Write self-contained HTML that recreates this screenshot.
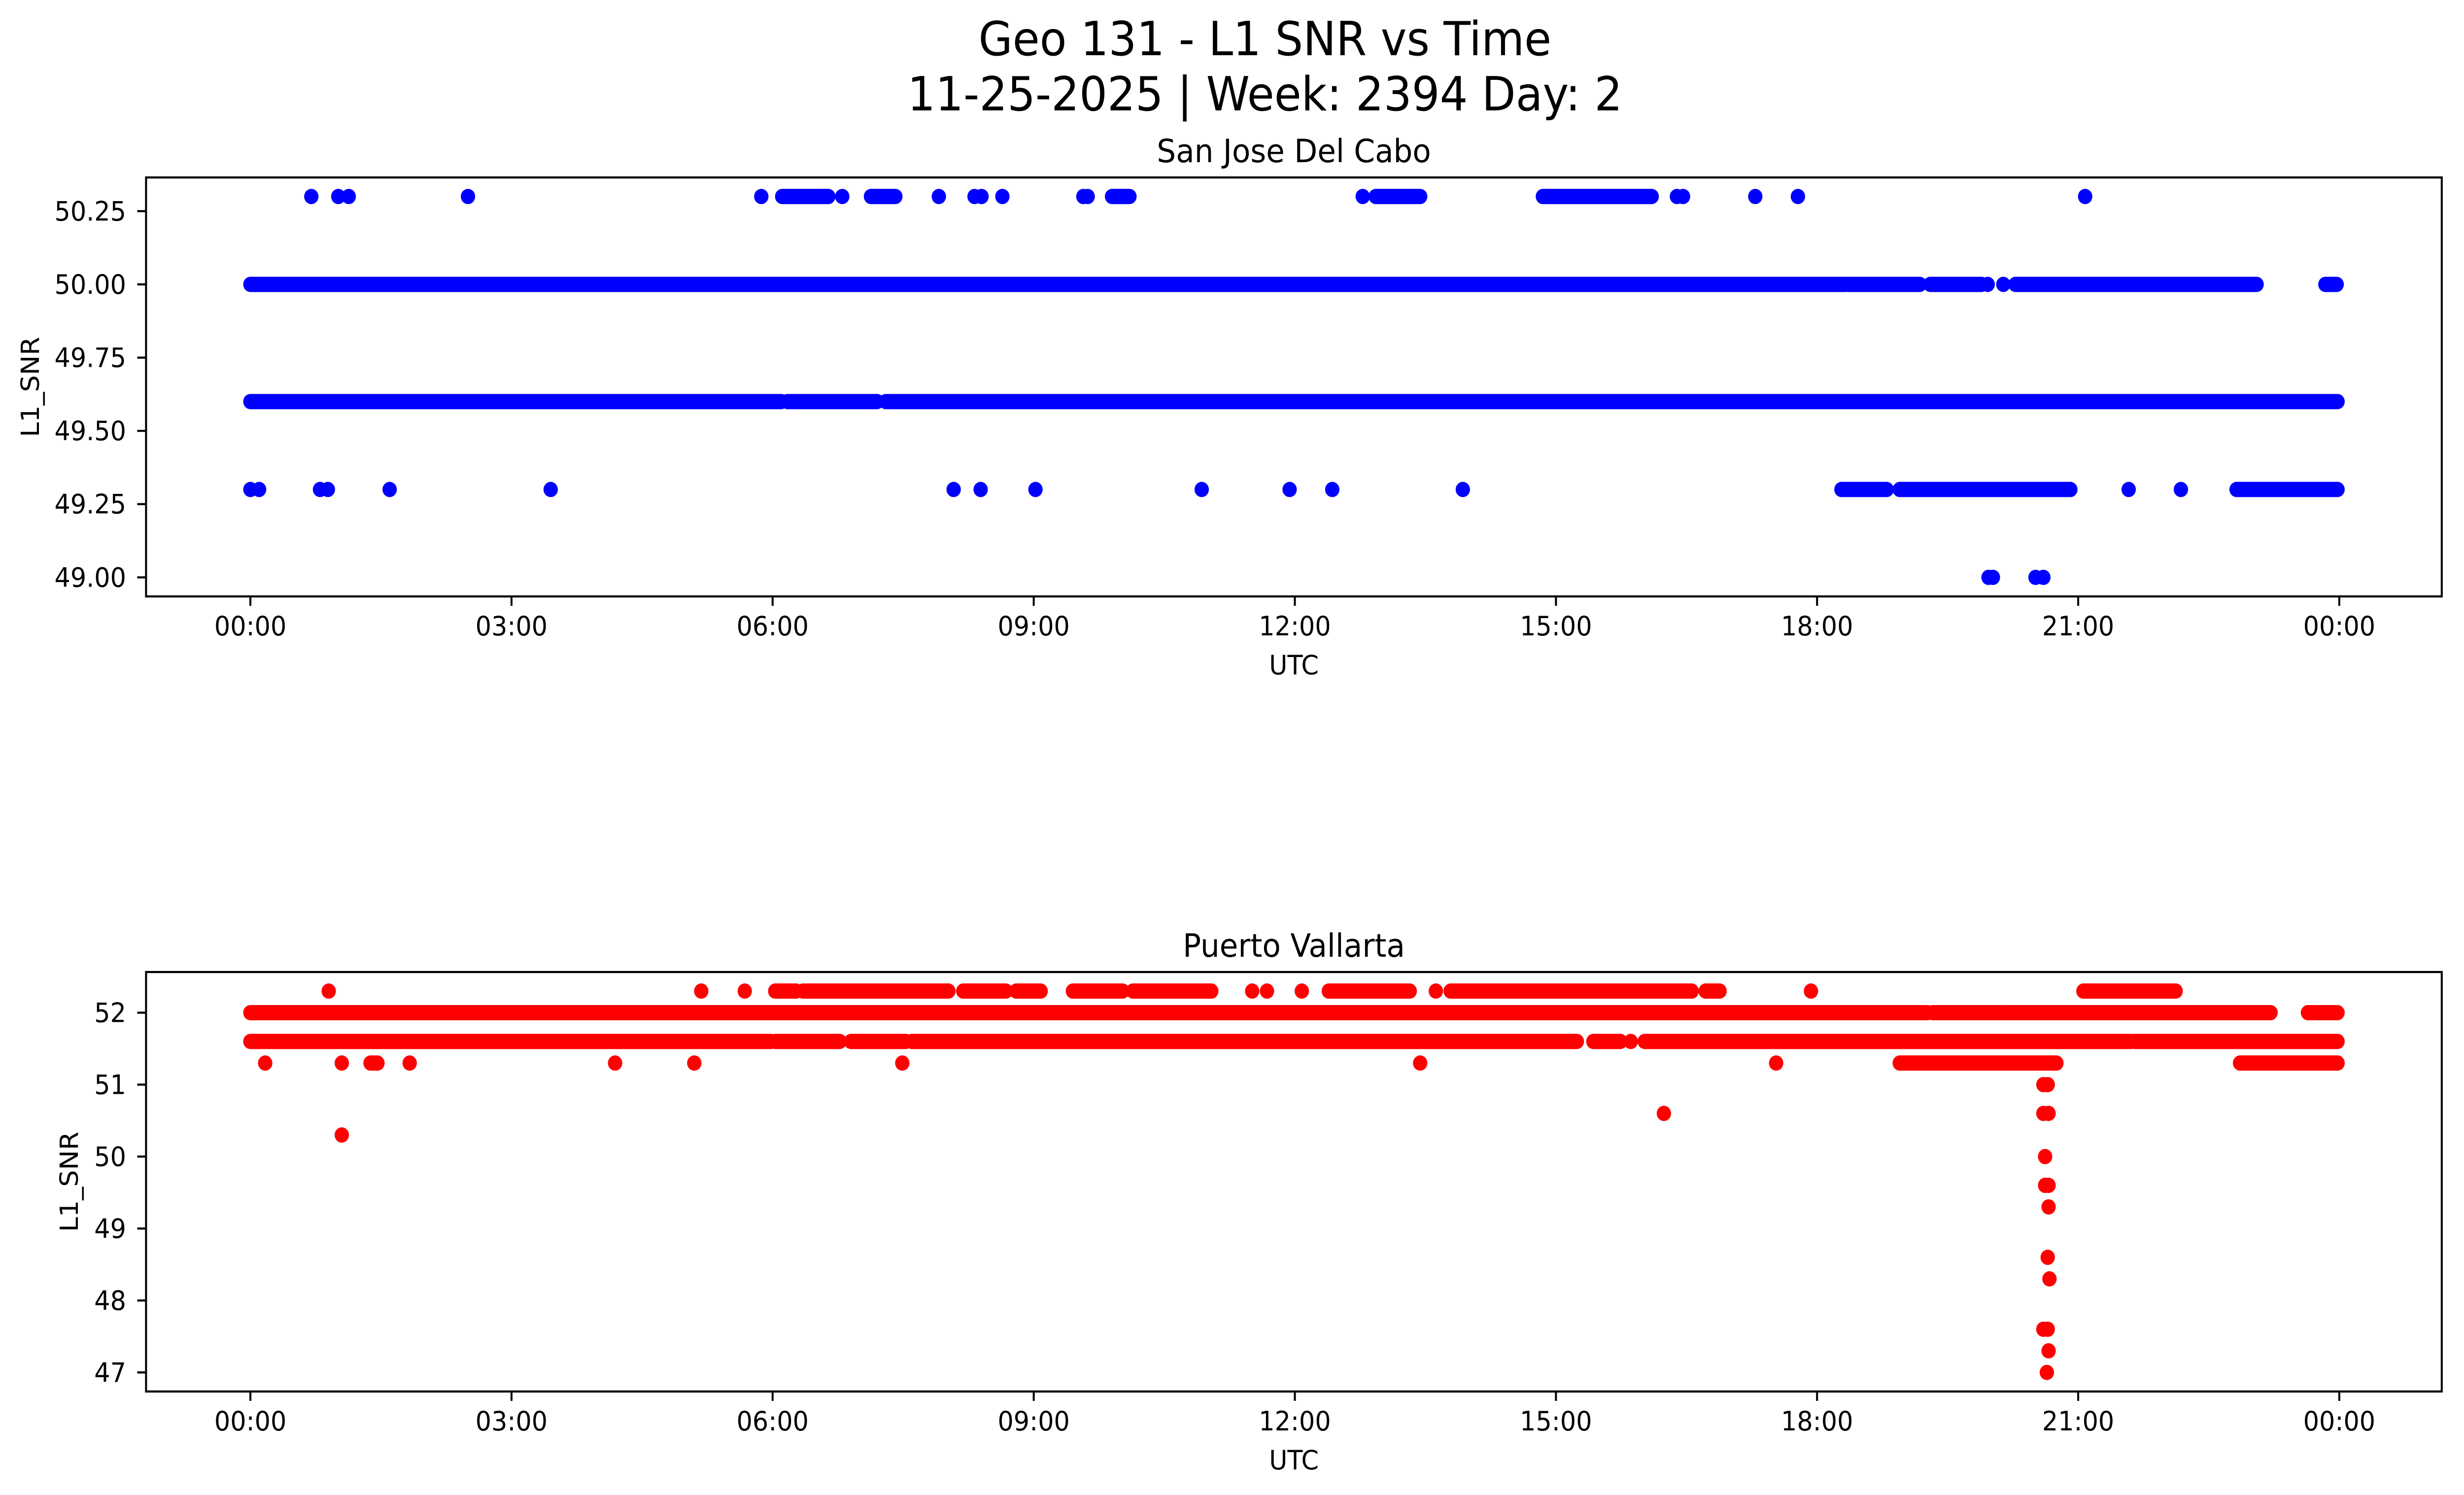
<!DOCTYPE html>
<html><head><meta charset="utf-8">
<style>
html,body{margin:0;padding:0;background:#fff;overflow:hidden;width:100vw;height:100vh;}
svg{display:block;width:100vw;height:100vh;font-family:"DejaVu Sans","Liberation Sans",sans-serif;}
</style></head>
<body>
<svg id="fig" viewBox="0 0 5314 3033" preserveAspectRatio="none" xmlns="http://www.w3.org/2000/svg">
<rect width="5314" height="3033" fill="#fff"/>
<text x="2728" y="112" font-size="95" text-anchor="middle">Geo 131 - L1 SNR vs Time</text>
<text x="2728" y="224" font-size="95" text-anchor="middle">11-25-2025 | Week: 2394 Day: 2</text>
<g id="top"></g>
<g id="bot"></g>
</svg>
<script>
// ---------- data: San Jose Del Cabo ----------
const sjSegStart = [0, 18.36, 19.30, 20.28, 23.84, 0, 6.17, 7.3, 6.11, 7.13, 9.90, 12.93, 14.85, 18.28, 18.95, 22.82];
const sjSegEnd   = [18.33, 19.18, 19.89, 23.05, 23.97, 6.1, 7.2, 23.98, 6.64, 7.41, 10.10, 13.44, 16.10, 18.80, 20.91, 23.98];
const sjSegValue = [50.0, 50.0, 50.0, 50.0, 50.0, 49.6, 49.6, 49.6, 50.3, 50.3, 50.3, 50.3, 50.3, 49.3, 49.3, 49.3];
const sjPtTime  = [19.96, 20.14, 0.70, 1.01, 1.13, 2.50, 5.87, 6.80, 7.91, 8.32, 8.40, 8.64, 9.57, 9.62, 12.78, 16.39, 16.46, 17.29, 17.78, 21.08,
                   0.0, 0.1, 0.80, 0.89, 1.60, 3.45, 8.08, 8.39, 9.02, 10.93, 11.94, 12.43, 13.93, 21.58, 22.18,
                   19.97, 20.02, 20.51, 20.60];
const sjPtValue = [50.0, 50.0, 50.3, 50.3, 50.3, 50.3, 50.3, 50.3, 50.3, 50.3, 50.3, 50.3, 50.3, 50.3, 50.3, 50.3, 50.3, 50.3, 50.3, 50.3,
                   49.3, 49.3, 49.3, 49.3, 49.3, 49.3, 49.3, 49.3, 49.3, 49.3, 49.3, 49.3, 49.3, 49.3, 49.3,
                   49.0, 49.0, 49.0, 49.0];
const sjTicks = [49.00, 49.25, 49.50, 49.75, 50.00, 50.25];
const sjTickLabels = ["49.00", "49.25", "49.50", "49.75", "50.00", "50.25"];

// ---------- data: Puerto Vallarta ----------
const pvSegStart = [0, 19.33, 20.2, 23.64, 0, 6.03, 6.90, 7.6, 15.43, 16.02, 21.65,
                    6.03, 6.35, 8.19, 8.80, 9.45, 10.14, 12.39, 13.79, 16.72, 21.06, 1.38, 18.95, 22.86];
const pvSegEnd   = [19.27, 20.17, 23.21, 23.98, 5.98, 6.77, 7.53, 15.24, 15.74, 21.61, 23.98,
                    6.27, 8.02, 8.68, 9.08, 10.02, 11.04, 13.32, 16.56, 16.88, 22.12, 1.46, 20.75, 23.98];
const pvSegValue = [52.0, 52.0, 52.0, 52.0, 51.6, 51.6, 51.6, 51.6, 51.6, 51.6, 51.6,
                    52.3, 52.3, 52.3, 52.3, 52.3, 52.3, 52.3, 52.3, 52.3, 52.3, 51.3, 51.3, 51.3];
const pvPtTime  = [15.86, 0.90, 5.18, 5.68, 11.51, 11.68, 12.08, 13.62, 17.93,
                   0.17, 1.05, 1.83, 4.19, 5.10, 7.49, 13.44, 17.53,
                   1.05, 16.24,
                   20.60, 20.65, 20.60, 20.66, 20.62, 20.62, 20.66, 20.66, 20.65, 20.67, 20.60, 20.65, 20.66, 20.64];
const pvPtValue = [51.6, 52.3, 52.3, 52.3, 52.3, 52.3, 52.3, 52.3, 52.3,
                   51.3, 51.3, 51.3, 51.3, 51.3, 51.3, 51.3, 51.3,
                   50.3, 50.6,
                   51.0, 51.0, 50.6, 50.6, 50.0, 49.6, 49.6, 49.3, 48.6, 48.3, 47.6, 47.6, 47.3, 47.0];
const pvTicks = [47, 48, 49, 50, 51, 52];
const pvTickLabels = ["47", "48", "49", "50", "51", "52"];

const xTickHours = [0, 3, 6, 9, 12, 15, 18, 21, 24];
const xTickLabels = ["00:00", "03:00", "06:00", "09:00", "12:00", "15:00", "18:00", "21:00", "00:00"];

const NS = "http://www.w3.org/2000/svg";
const AX_L = 315, AX_R = 5266;
function xScale(h){ return 540 + h * 187.71; }
function mk(tag, attrs, parent){
  const e = document.createElementNS(NS, tag);
  for (const k in attrs) e.setAttribute(k, attrs[k]);
  parent.appendChild(e); return e;
}

function panel(g, cfg){
  const yS = v => cfg.bottom - (v - cfg.ymin) / (cfg.ymax - cfg.ymin) * (cfg.bottom - cfg.top);
  const t = mk('text', {x: (AX_L+AX_R)/2, y: cfg.top - 31, 'font-size': 65, 'text-anchor': 'middle'}, g);
  
  
  t.textContent = cfg.title;
  const dg = mk('g', {}, g);
  
  
  for (let i = 0; i < cfg.segStart.length; i++){
    const ln = mk('line', {x1: xScale(cfg.segStart[i]), x2: xScale(cfg.segEnd[i]), y1: yS(cfg.segValue[i]), y2: yS(cfg.segValue[i]),
      stroke: cfg.color, 'stroke-width': 31, 'stroke-linecap': 'round'}, dg);
    
    
  }
  for (let i = 0; i < cfg.ptTime.length; i++){
    const c = mk('circle', {cx: xScale(cfg.ptTime[i]), cy: yS(cfg.ptValue[i]), r: 15.5, fill: cfg.color}, dg);
    
    
  }
  const fr = mk('rect', {x: AX_L, y: cfg.top, width: AX_R-AX_L, height: cfg.bottom-cfg.top, fill: 'none', stroke: '#000', 'stroke-width': 4.3}, g);
  
  
  const yg = mk('g', {}, g);
  
  
  cfg.yTicks.forEach((v, i) => {
    const y = yS(v);
    mk('line', {x1: AX_L-19, x2: AX_L, y1: y, y2: y, stroke: '#000', 'stroke-width': 4.3}, yg);
    const tl = mk('text', {x: 272, y: y + 19, 'font-size': 54, 'text-anchor': 'end'}, yg);
    
    
    tl.textContent = cfg.yLabels[i];
  });
  const yl = mk('text', {x: 0, y: 0, 'font-size': 54, 'text-anchor': 'middle',
    transform: 'translate(' + cfg.ylabelX + ',' + ((cfg.top+cfg.bottom)/2) + ') rotate(-90)'}, g);
  
  
  yl.textContent = 'L1_SNR';
  const xg = mk('g', {}, g);
  
  
  xTickHours.forEach((h, i) => {
    const x = xScale(h);
    mk('line', {x1: x, x2: x, y1: cfg.bottom, y2: cfg.bottom + 19, stroke: '#000', 'stroke-width': 4.3}, xg);
    const tl = mk('text', {x: x, y: cfg.bottom + 79, 'font-size': 54, 'text-anchor': 'middle'}, xg);
    
    
    tl.textContent = xTickLabels[i];
  });
  const xl = mk('text', {x: (AX_L+AX_R)/2, y: cfg.bottom + 158, 'font-size': 54, 'text-anchor': 'middle'}, g);
  
  
  xl.textContent = 'UTC';
}

panel(document.getElementById('top'), {name: 'san-jose', title: 'San Jose Del Cabo', color: '#0000ff',
  top: 360, bottom: 1210, ymin: 48.935, ymax: 50.365, yTicks: sjTicks, yLabels: sjTickLabels, ylabelX: 84,
  segStart: sjSegStart, segEnd: sjSegEnd, segValue: sjSegValue, ptTime: sjPtTime, ptValue: sjPtValue});
panel(document.getElementById('bot'), {name: 'puerto-vallarta', title: 'Puerto Vallarta', color: '#ff0000',
  top: 1972, bottom: 2823, ymin: 46.735, ymax: 52.565, yTicks: pvTicks, yLabels: pvTickLabels, ylabelX: 168,
  segStart: pvSegStart, segEnd: pvSegEnd, segValue: pvSegValue, ptTime: pvPtTime, ptValue: pvPtValue});
</script>
</body></html>
